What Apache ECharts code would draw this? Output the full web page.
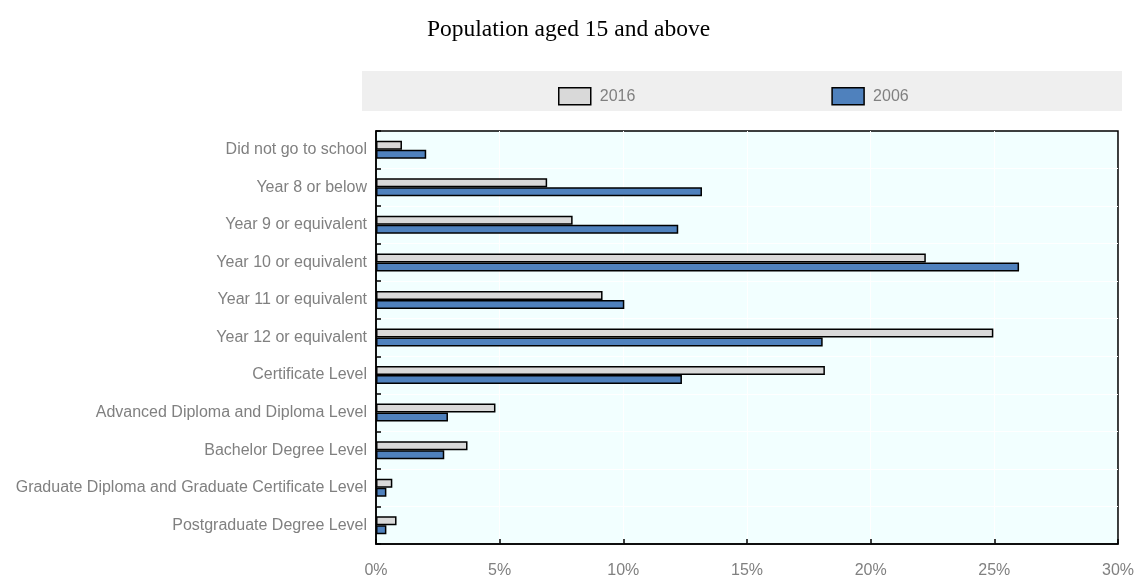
<!DOCTYPE html>
<html>
<head>
<meta charset="utf-8">
<script src="https://cdn.jsdelivr.net/npm/echarts@6/dist/echarts.min.js"></script>
<style>html,body{margin:0;padding:0;background:#fff;}#c{width:1137px;height:579px;}</style>
</head>
<body>
<div id="c"></div>
<script>
var categories = [
  "Did not go to school",
  "Year 8 or below",
  "Year 9 or equivalent",
  "Year 10 or equivalent",
  "Year 11 or equivalent",
  "Year 12 or equivalent",
  "Certificate Level",
  "Advanced Diploma and Diploma Level",
  "Bachelor Degree Level",
  "Graduate Diploma and Graduate Certificate Level",
  "Postgraduate Degree Level"
];
var values2016 = [1.05, 6.92, 7.95, 22.23, 9.16, 24.96, 18.15, 4.83, 3.70, 0.66, 0.83];
var values2006 = [2.03, 13.18, 12.22, 26.0, 10.04, 18.06, 12.37, 2.91, 2.76, 0.42, 0.42];
var xTicks = [0, 5, 10, 15, 20, 25, 30];
var titleText = "Population aged 15 and above";

var labelFont = "'Liberation Sans', Arial, sans-serif";
var chart = echarts.init(document.getElementById('c'), null, {renderer: 'canvas'});
chart.setOption({
  animation: false,
  backgroundColor: '#ffffff',
  title: {
    text: titleText,
    left: 'center',
    top: 13,
    textStyle: {fontFamily: "'Liberation Serif', 'Times New Roman', serif", fontSize: 23.5, fontWeight: 'normal', color: '#000'}
  },
  graphic: [{
    type: 'rect', z: -1,
    shape: {x: 362, y: 71, width: 760, height: 40},
    style: {fill: '#EFEFEF'}
  }],
  legend: {
    left: 553, top: 82,
    itemWidth: 32, itemHeight: 17, itemGap: 196,
    textStyle: {fontFamily: labelFont, fontSize: 16, color: '#808080', padding: [0, 0, 0, 4]},
    data: [
      {name: '2016', icon: 'rect', itemStyle: {color: '#D9D9D9', borderColor: '#000', borderWidth: 1.5}},
      {name: '2006', icon: 'rect', itemStyle: {color: '#4F81BD', borderColor: '#000', borderWidth: 1.5}}
    ]
  },
  grid: {
    left: 376, right: 17, top: 131, bottom: 33,
    show: true, backgroundColor: '#F2FFFF', borderColor: '#000', borderWidth: 1.5,
    containLabel: false
  },
  xAxis: {
    type: 'value', min: 0, max: 30, interval: 5,
    axisLine: {show: true, lineStyle: {color: '#000', width: 1.5}},
    axisTick: {show: true, inside: true, length: 5, lineStyle: {color: '#000', width: 1.5}},
    splitLine: {show: true, showMinLine: false, showMaxLine: false, lineStyle: {color: '#ffffff', width: 1}},
    axisLabel: {margin: 19, fontFamily: labelFont, fontSize: 16, color: '#808080',
      formatter: function (v) { return xTicks.indexOf(v) >= 0 ? v + '%' : ''; }}
  },
  yAxis: {
    type: 'category', inverse: true, data: categories,
    axisLine: {show: true, lineStyle: {color: '#000', width: 1.5}},
    axisTick: {show: true, inside: true, length: 5, lineStyle: {color: '#000', width: 1.5}},
    splitLine: {show: true, showMinLine: false, showMaxLine: false, lineStyle: {color: '#ffffff', width: 1}},
    axisLabel: {margin: 9, fontFamily: labelFont, fontSize: 16, color: '#808080'}
  },
  series: [
    {name: '2016', type: 'bar', data: values2016, barWidth: 9, barGap: '0%',
      itemStyle: {color: '#D9D9D9', borderColor: '#000', borderWidth: 1.5}},
    {name: '2006', type: 'bar', data: values2006, barWidth: 9, barGap: '0%',
      itemStyle: {color: '#4F81BD', borderColor: '#000', borderWidth: 1.5}}
  ]
});
</script>
</body>
</html>
